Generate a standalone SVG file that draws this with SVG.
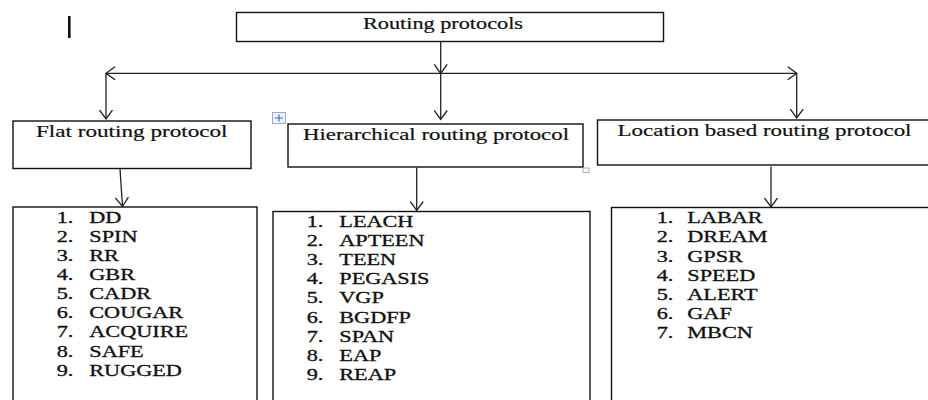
<svg xmlns="http://www.w3.org/2000/svg" width="928" height="400" viewBox="0 0 928 400">
<defs>
<style>
.box{fill:#fff;stroke:#111;stroke-width:1.4}
.hd{font-family:"Liberation Serif","DejaVu Serif",serif;font-size:17px;fill:#111;stroke:#111;stroke-width:0.2}
.it{font-family:"Liberation Serif","DejaVu Serif",serif;font-size:16px;fill:#111;stroke:#111;stroke-width:0.3}
.cn{fill:none;stroke:#222;stroke-width:1.3}
</style>
<marker id="v" viewBox="0 0 11 14" refX="9.5" refY="7" markerWidth="11" markerHeight="14" markerUnits="userSpaceOnUse" orient="auto-start-reverse">
<path d="M0.5,0.5 L9.5,7 L0.5,13.5" fill="none" stroke="#222" stroke-width="1.3"/>
</marker>
</defs>
<rect width="928" height="400" fill="#fff"/>
<rect x="68" y="16" width="2.6" height="22" fill="#111"/>

<g id="root">
<rect class="box" x="236.5" y="12.5" width="427" height="29"/>
<text class="hd" x="363" y="28.5" font-size="16" textLength="160" lengthAdjust="spacingAndGlyphs">Routing protocols</text>
</g>

<g id="flat">
<rect class="box" x="13" y="121" width="238" height="47.5"/>
<text class="hd" x="36" y="136.5" textLength="191.5" lengthAdjust="spacingAndGlyphs">Flat routing protocol</text>
</g>

<g id="hier">
<rect class="box" x="288" y="124" width="295" height="43"/>
<text class="hd" x="303" y="140" textLength="266" lengthAdjust="spacingAndGlyphs">Hierarchical routing protocol</text>
<g transform="translate(272,112)">
<rect x="0.5" y="0.5" width="13" height="11" fill="#eef3fb" stroke="#9aaccc" stroke-width="1"/>
<path d="M3,6 H11 M7,2.5 V9.5" stroke="#3b6fd1" stroke-width="1.2"/>
</g>
<rect x="583" y="168" width="6" height="4.5" fill="#fff" stroke="#999" stroke-width="0.8"/>
</g>

<g id="loc">
<rect class="box" x="597.5" y="120" width="340" height="45"/>
<text class="hd" x="617.5" y="136" textLength="294" lengthAdjust="spacingAndGlyphs">Location based routing protocol</text>
</g>

<g id="flat-list">
<rect class="box" x="13" y="207" width="244" height="200"/>
<g transform="matrix(1.39,0,0,1,89.3,0)">
<g class="it">
<text x="-23.5" y="223.3">1.</text><text x="0" y="223.3">DD</text>
<text x="-23.5" y="242.3">2.</text><text x="0" y="242.3">SPIN</text>
<text x="-23.5" y="261.3">3.</text><text x="0" y="261.3">RR</text>
<text x="-23.5" y="280.3">4.</text><text x="0" y="280.3">GBR</text>
<text x="-23.5" y="299.3">5.</text><text x="0" y="299.3">CADR</text>
<text x="-23.5" y="318.3">6.</text><text x="0" y="318.3">COUGAR</text>
<text x="-23.5" y="337.4">7.</text><text x="0" y="337.4">ACQUIRE</text>
<text x="-23.5" y="356.6">8.</text><text x="0" y="356.6">SAFE</text>
<text x="-23.5" y="375.7">9.</text><text x="0" y="375.7">RUGGED</text>
</g>
</g>
</g>

<g id="hier-list">
<rect class="box" x="273" y="211.5" width="317" height="200"/>
<g transform="matrix(1.39,0,0,1,339.3,0)">
<g class="it">
<text x="-23.5" y="226.7">1.</text><text x="0" y="226.7">LEACH</text>
<text x="-23.5" y="245.9">2.</text><text x="0" y="245.9">APTEEN</text>
<text x="-23.5" y="265">3.</text><text x="0" y="265">TEEN</text>
<text x="-23.5" y="284.2">4.</text><text x="0" y="284.2">PEGASIS</text>
<text x="-23.5" y="303.4">5.</text><text x="0" y="303.4">VGP</text>
<text x="-23.5" y="322.6">6.</text><text x="0" y="322.6">BGDFP</text>
<text x="-23.5" y="341.7">7.</text><text x="0" y="341.7">SPAN</text>
<text x="-23.5" y="360.9">8.</text><text x="0" y="360.9">EAP</text>
<text x="-23.5" y="380">9.</text><text x="0" y="380">REAP</text>
</g>
</g>
</g>

<g id="loc-list">
<rect class="box" x="611.5" y="207.5" width="330" height="200"/>
<g transform="matrix(1.39,0,0,1,687.3,0)">
<g class="it">
<text x="-22" y="223.3">1.</text><text x="0" y="223.3">LABAR</text>
<text x="-22" y="242.5">2.</text><text x="0" y="242.5">DREAM</text>
<text x="-22" y="261.6">3.</text><text x="0" y="261.6">GPSR</text>
<text x="-22" y="280.8">4.</text><text x="0" y="280.8">SPEED</text>
<text x="-22" y="300">5.</text><text x="0" y="300">ALERT</text>
<text x="-22" y="319.1">6.</text><text x="0" y="319.1">GAF</text>
<text x="-22" y="338.3">7.</text><text x="0" y="338.3">MBCN</text>
</g>
</g>
</g>

<g id="connectors">
<line class="cn" x1="440.7" y1="41.5" x2="440.7" y2="73.3" marker-end="url(#v)"/>
<line class="cn" x1="106" y1="73.3" x2="796.7" y2="73.3" marker-start="url(#v)" marker-end="url(#v)"/>
<line class="cn" x1="106" y1="73.3" x2="106" y2="119" marker-end="url(#v)"/>
<line class="cn" x1="440.7" y1="73.3" x2="440.7" y2="119.5" marker-end="url(#v)"/>
<line class="cn" x1="796.7" y1="73.3" x2="796.7" y2="118" marker-end="url(#v)"/>
<line class="cn" x1="120" y1="169" x2="122.5" y2="206.5" marker-end="url(#v)"/>
<line class="cn" x1="416.7" y1="167.5" x2="416.7" y2="210.5" marker-end="url(#v)"/>
<line class="cn" x1="771" y1="166.5" x2="771" y2="207" marker-end="url(#v)"/>
</g>
</svg>
